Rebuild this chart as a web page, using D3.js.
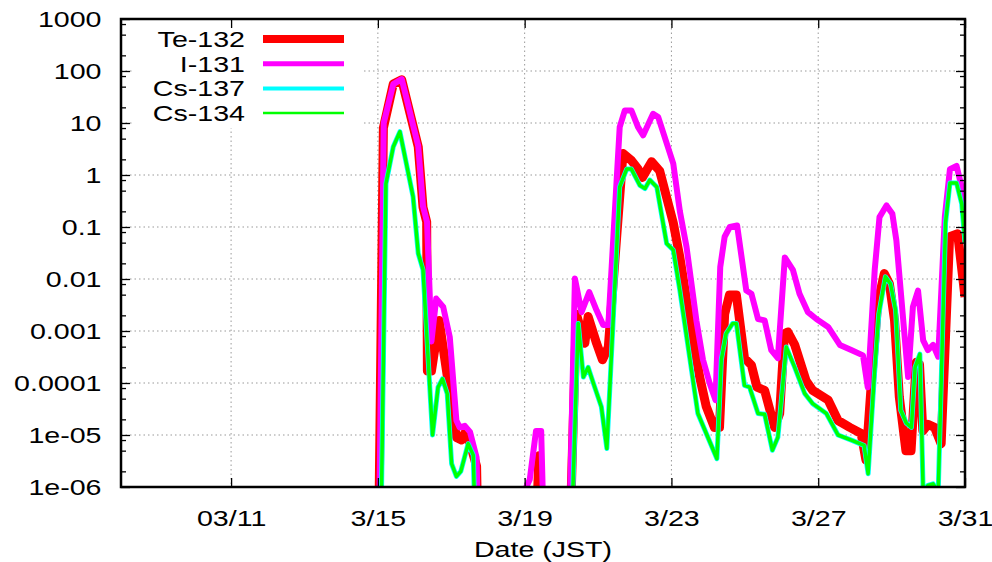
<!DOCTYPE html>
<html>
<head>
<meta charset="utf-8">
<script src="https://cdn.jsdelivr.net/npm/d3@7"></script>
<style>
  body { margin: 0; background: #fff; }
  text { font-family: "Liberation Sans", Arial, Helvetica, sans-serif; fill: #000; }
</style>
</head>
<body>
<svg id="chart" width="992" height="562"></svg>
<script>
// x values are days of March 2011 (JST), 15.5 = 3/15 12:00
const dayTicks = [11, 15, 19, 23, 27, 31];
const dayTickLabels = ["03/11", "3/15", "3/19", "3/23", "3/27", "3/31"];
const decades = [1e-6, 1e-5, 1e-4, 1e-3, 1e-2, 0.1, 1, 10, 100, 1000];
const decadeLabels = ["1e-06", "1e-05", "0.0001", "0.001", "0.01", "0.1", "1", "10", "100", "1000"];
const minorMantissa = [2, 5, 8];
const seriesNames = ["Te-132", "I-131", "Cs-137", "Cs-134"];

// 1e-9 = below the plotted range
const te132 = [
  [14.99, 1e-9], [15.15, 8], [15.42, 56], [15.65, 68], [16.10, 3.5], [16.23, 0.24],
  [16.33, 0.125], [16.35, 1.7e-4], [16.46, 1.7e-4], [16.67, 1.6e-3], [16.96, 6.3e-5],
  [17.14, 9e-6], [17.28, 8e-6], [17.37, 1.1e-5], [17.51, 7e-6], [17.69, 2.5e-6], [17.78, 1e-9],
  [19.2, 1e-9], [19.39, 4e-6], [19.55, 1e-9],
  [20.15, 1e-9], [20.41, 2.1e-3], [20.64, 5.8e-4], [20.73, 1.9e-3], [20.96, 5.8e-4],
  [21.12, 2.8e-4], [21.28, 4.9e-4], [21.68, 2.6], [21.91, 1.9], [22.09, 1.3], [22.21, 0.9],
  [22.46, 1.8], [22.68, 1.2], [23.05, 0.12], [23.23, 0.026], [23.5, 1.6e-3], [23.77, 1.3e-4],
  [23.95, 3.5e-5], [24.17, 1.4e-5], [24.31, 1.4e-5], [24.45, 2.1e-3], [24.58, 4.9e-3],
  [24.77, 4.9e-3], [24.99, 3e-4], [25.18, 2.2e-4], [25.33, 8.3e-5], [25.54, 7.2e-5],
  [25.81, 1.4e-5], [25.95, 2.6e-5], [26.08, 8.9e-4], [26.17, 9.6e-4], [26.36, 5.4e-4],
  [26.67, 1.1e-4], [26.85, 7.2e-5], [27.27, 4.7e-5], [27.54, 1.9e-5], [27.86, 1.4e-5],
  [28.17, 1.07e-5], [28.3, 3.3e-6], [28.44, 8.3e-5], [28.62, 3.4e-3], [28.8, 0.0127],
  [28.94, 8.1e-3], [29.08, 1.6e-3], [29.21, 5.4e-5], [29.39, 5e-6], [29.53, 5e-6],
  [29.67, 2.5e-4], [29.76, 2.3e-4], [29.85, 1.2e-5], [29.99, 1.6e-5], [30.17, 1.4e-5],
  [30.35, 6.8e-6], [30.58, 0.065], [30.8, 0.074], [31.0, 4.5e-3]
];

const i131 = [
  [15.0, 1e-9], [15.16, 10], [15.42, 56], [15.65, 70], [16.10, 3.6], [16.23, 0.25],
  [16.34, 0.125], [16.46, 6.3e-4], [16.59, 4.2e-3], [16.78, 2.9e-3], [16.96, 7.6e-4],
  [17.14, 1.9e-5], [17.23, 1.4e-5], [17.37, 1.5e-5], [17.51, 1.15e-5], [17.69, 3.7e-6], [17.8, 1e-9],
  [18.98, 8e-7], [19.14, 1.4e-6], [19.31, 1.2e-5], [19.45, 1.2e-5], [19.6, 1e-9],
  [20.15, 1e-9], [20.37, 0.0102], [20.55, 2.3e-3], [20.76, 5.6e-3], [20.96, 2.5e-3],
  [21.14, 1.3e-3], [21.28, 1.3e-3], [21.59, 8.3], [21.73, 17.4], [21.91, 17.4], [22.09, 8.3],
  [22.23, 5.8], [22.5, 15], [22.64, 13], [23.05, 1.66], [23.23, 0.2], [23.41, 0.042],
  [23.68, 1.6e-3], [23.86, 2.8e-4], [24.04, 1e-4], [24.2, 4.7e-5], [24.33, 0.017],
  [24.45, 0.065], [24.59, 0.1], [24.79, 0.107], [25.04, 6e-3], [25.18, 5.2e-3],
  [25.36, 1.7e-3], [25.54, 1.6e-3], [25.72, 4.3e-4], [25.9, 3e-4], [26.09, 0.026],
  [26.31, 0.015], [26.49, 5.2e-3], [26.72, 2.3e-3], [26.95, 1.7e-3], [27.27, 1.2e-3],
  [27.59, 5.4e-4], [27.9, 4.3e-4], [28.22, 3.4e-4], [28.35, 8.3e-5], [28.54, 0.015],
  [28.67, 0.155], [28.86, 0.26], [29.02, 0.18], [29.13, 0.055], [29.45, 1.3e-4],
  [29.58, 2.9e-3], [29.72, 6e-3], [29.86, 6.6e-4], [29.99, 4.3e-4], [30.13, 5.4e-4],
  [30.27, 3.2e-4], [30.45, 0.155], [30.59, 1.3], [30.77, 1.5], [30.91, 0.59], [31.0, 0.107]
];

const cs137 = [
  [15.04, 1e-9], [15.22, 0.68], [15.42, 3.5], [15.6, 6.8], [15.96, 0.38], [16.10, 0.031],
  [16.23, 0.015], [16.49, 1e-5], [16.64, 8.3e-5], [16.76, 1.2e-4], [16.89, 6.2e-5],
  [17.01, 2.8e-6], [17.14, 1.6e-6], [17.26, 2e-6], [17.46, 6.8e-6], [17.6, 4.1e-6], [17.73, 1e-9],
  [20.18, 1e-9], [20.46, 1.4e-3], [20.6, 1.3e-4], [20.73, 2e-4], [20.91, 8.3e-5],
  [21.09, 3.5e-5], [21.24, 5.5e-6], [21.59, 0.59], [21.78, 1.3], [21.91, 1.3], [22.14, 0.63],
  [22.28, 0.55], [22.41, 0.8], [22.6, 0.59], [22.87, 0.048], [23.05, 0.036], [23.23, 6e-3],
  [23.5, 3e-4], [23.72, 2.6e-5], [23.95, 1.07e-5], [24.24, 3.5e-6], [24.36, 2.8e-4],
  [24.49, 8.9e-4], [24.67, 1.4e-3], [24.77, 1.4e-3], [24.99, 9e-5], [25.13, 8.3e-5],
  [25.36, 2.6e-5], [25.54, 2.5e-5], [25.75, 5.1e-6], [25.9, 9e-6], [26.13, 4.9e-4],
  [26.36, 2e-4], [26.63, 6.3e-5], [26.85, 4e-5], [27.22, 2.6e-5], [27.54, 1e-5],
  [27.92, 7.9e-6], [28.25, 6.3e-6], [28.36, 1.8e-6], [28.52, 1.1e-4], [28.65, 2.1e-3],
  [28.83, 0.011], [28.97, 8.1e-3], [29.11, 2.5e-3], [29.25, 3e-5], [29.4, 1.7e-5],
  [29.54, 1.4e-5], [29.64, 2e-4], [29.77, 3.6e-4], [29.86, 8e-7], [29.99, 1.07e-6],
  [30.13, 1.15e-6], [30.27, 8e-7], [30.47, 0.12], [30.59, 0.7], [30.77, 0.7], [30.91, 0.28],
  [31.0, 0.05]
];

const cs134 = [
  [15.04, 1e-9], [15.22, 0.68], [15.42, 3.5], [15.6, 6.8], [15.96, 0.38], [16.10, 0.031],
  [16.23, 0.015], [16.49, 1e-5], [16.64, 8.3e-5], [16.76, 1.2e-4], [16.89, 6.2e-5],
  [17.01, 2.8e-6], [17.14, 1.6e-6], [17.26, 2e-6], [17.46, 6.8e-6], [17.6, 4.1e-6], [17.73, 1e-9],
  [20.18, 1e-9], [20.46, 1.4e-3], [20.6, 1.3e-4], [20.73, 2e-4], [20.91, 8.3e-5],
  [21.09, 3.5e-5], [21.24, 5.5e-6], [21.59, 0.59], [21.78, 1.3], [21.91, 1.3], [22.14, 0.63],
  [22.28, 0.55], [22.41, 0.8], [22.6, 0.59], [22.87, 0.048], [23.05, 0.036], [23.23, 6e-3],
  [23.5, 3e-4], [23.72, 2.6e-5], [23.95, 1.07e-5], [24.24, 3.5e-6], [24.36, 2.8e-4],
  [24.49, 8.9e-4], [24.67, 1.4e-3], [24.77, 1.4e-3], [24.99, 9e-5], [25.13, 8.3e-5],
  [25.36, 2.6e-5], [25.54, 2.5e-5], [25.75, 5.1e-6], [25.9, 9e-6], [26.13, 4.9e-4],
  [26.36, 2e-4], [26.63, 6.3e-5], [26.85, 4e-5], [27.22, 2.6e-5], [27.54, 1e-5],
  [27.92, 7.9e-6], [28.25, 6.3e-6], [28.36, 1.8e-6], [28.52, 1.1e-4], [28.65, 2.1e-3],
  [28.83, 0.011], [28.97, 8.1e-3], [29.11, 2.5e-3], [29.25, 3e-5], [29.4, 1.7e-5],
  [29.54, 1.4e-5], [29.64, 2e-4], [29.77, 3.6e-4], [29.86, 8e-7], [29.99, 1.07e-6],
  [30.13, 1.15e-6], [30.27, 8e-7], [30.47, 0.12], [30.59, 0.7], [30.77, 0.7], [30.91, 0.28],
  [31.0, 0.05]
];

const seriesData = [te132, i131, cs137, cs134];
const seriesColors = ["#ff0000", "#ff00ff", "#00ffff", "#00ff00"];
const seriesWidths = [9, 6, 5, 3.5];

var svg = d3.select("#chart");
var plotL = 121, plotR = 965, plotT = 19, plotB = 487;
var stretch = "scale(1.3,1)";   // the reference text is stretched sideways

var x = d3.scaleLinear().domain([8, 31]).range([plotL, plotR]);
var y = d3.scaleLog().domain([1e-6, 1000]).range([plotB, plotT]);

svg.append("defs").append("clipPath").attr("id", "plotclip")
  .append("rect").attr("x", plotL).attr("y", plotT)
  .attr("width", plotR - plotL).attr("height", plotB - plotT);

// grid
var grid = svg.append("g").attr("stroke", "#999").attr("stroke-width", 1)
  .attr("stroke-dasharray", "1.5,3");
grid.selectAll("line.gy").data(decades.slice(1, -1)).enter().append("line")
  .attr("x1", plotL).attr("x2", plotR)
  .attr("y1", d => y(d)).attr("y2", d => y(d));
grid.selectAll("line.gx").data(dayTicks.slice(0, -1)).enter().append("line")
  .attr("x1", d => x(d)).attr("x2", d => x(d))
  .attr("y1", plotT).attr("y2", plotB);

// key area hides the grid behind it
svg.append("rect").attr("x", 134).attr("y", 21).attr("width", 228).attr("height", 107)
  .attr("fill", "#fff");

// series
var line = d3.line().x(d => x(d[0])).y(d => y(d[1]));
svg.append("g").attr("clip-path", "url(#plotclip)")
  .selectAll("path").data(seriesData).enter().append("path")
  .attr("d", line)
  .attr("fill", "none")
  .attr("stroke", (d, i) => seriesColors[i])
  .attr("stroke-width", (d, i) => seriesWidths[i])
  .attr("stroke-linejoin", "round");

// axes, ticks pointing inward on all four sides
var minorTicks = [];
decades.slice(0, -1).forEach(function(dec) {
  minorMantissa.forEach(function(m) { minorTicks.push(dec * m); });
});

function styleAxis(g) {
  g.select(".domain").remove();
  g.selectAll(".tick line").attr("stroke", "#000").attr("stroke-width", 1.3);
}

svg.append("g").attr("transform", "translate(" + plotL + ",0)")
  .call(d3.axisLeft(y).tickValues(decades).tickSize(-9).tickPadding(15)
    .tickFormat((d, i) => decadeLabels[i]))
  .call(styleAxis)
  .call(g => g.selectAll("text").attr("font-size", 22).attr("transform", stretch));
svg.append("g").attr("transform", "translate(" + plotL + ",0)")
  .call(d3.axisLeft(y).tickValues(minorTicks).tickSize(-5).tickFormat(""))
  .call(styleAxis);
svg.append("g").attr("transform", "translate(" + plotR + ",0)")
  .call(d3.axisRight(y).tickValues(decades).tickSize(-9).tickFormat(""))
  .call(styleAxis);
svg.append("g").attr("transform", "translate(" + plotR + ",0)")
  .call(d3.axisRight(y).tickValues(minorTicks).tickSize(-5).tickFormat(""))
  .call(styleAxis);

svg.append("g").attr("transform", "translate(0," + plotB + ")")
  .call(d3.axisBottom(x).tickValues(dayTicks).tickSize(-9).tickPadding(23)
    .tickFormat((d, i) => dayTickLabels[i]))
  .call(styleAxis)
  .call(g => g.selectAll("text").attr("font-size", 22).attr("transform", stretch));
svg.append("g").attr("transform", "translate(0," + plotT + ")")
  .call(d3.axisTop(x).tickValues(dayTicks).tickSize(-9).tickFormat(""))
  .call(styleAxis);

// frame
svg.append("rect").attr("x", plotL).attr("y", plotT)
  .attr("width", plotR - plotL).attr("height", plotB - plotT)
  .attr("fill", "none").attr("stroke", "#000").attr("stroke-width", 2.5);

// axis title
svg.append("text")
  .attr("transform", "translate(" + ((plotL + plotR) / 2) + ",557) " + stretch)
  .attr("text-anchor", "middle").attr("font-size", 22)
  .text("Date (JST)");

// key
var key = svg.append("g");
seriesNames.forEach(function(name, i) {
  var ky = 39 + i * 24.7;
  key.append("text")
    .attr("transform", "translate(245," + ky + ") " + stretch)
    .attr("text-anchor", "end").attr("dy", "0.36em").attr("font-size", 22)
    .text(name);
  key.append("line")
    .attr("x1", 263).attr("x2", 344).attr("y1", ky).attr("y2", ky)
    .attr("stroke", seriesColors[i]).attr("stroke-width", seriesWidths[i] - 1);
});
</script>
</body>
</html>
